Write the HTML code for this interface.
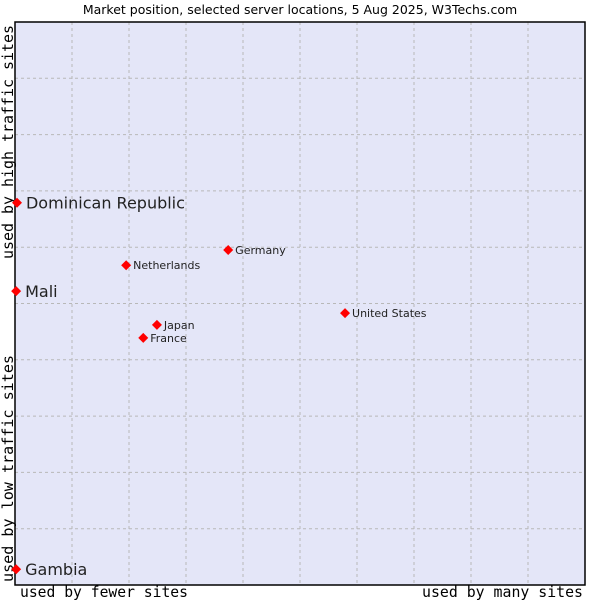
<!DOCTYPE html>
<html><head><meta charset="utf-8"><style>
body{margin:0;background:#fff;width:600px;height:600px;overflow:hidden}
text{font-family:"DejaVu Sans","Liberation Sans",sans-serif}
.m{font-family:"DejaVu Sans Mono","Liberation Mono",monospace}
</style></head><body>
<svg id="c" width="600" height="600">
<text x="300" y="14" text-anchor="middle" font-size="12.5" fill="#000">Market position, selected server locations, 5 Aug 2025, W3Techs.com</text>
<rect x="15" y="22" width="570" height="563" fill="#e4e6f8"/>
<g id="grid"></g>
<rect x="15" y="22" width="570" height="563" fill="none" stroke="#000" stroke-width="1.5"/>
<text class="m" x="20" y="597" font-size="15" textLength="168" lengthAdjust="spacingAndGlyphs">used by fewer sites</text>
<text class="m" x="422" y="597" font-size="15" textLength="161" lengthAdjust="spacingAndGlyphs">used by many sites</text>
<text class="m" transform="translate(13,259) rotate(-90)" font-size="15" textLength="234" lengthAdjust="spacingAndGlyphs">used by high traffic sites</text>
<text class="m" transform="translate(13,582) rotate(-90)" font-size="15" textLength="227" lengthAdjust="spacingAndGlyphs">used by low traffic sites</text>
<g id="pts"></g>
</svg>
<script>
const names=["Dominican Republic","Mali","Gambia","Germany","Netherlands","United States","Japan","France"];
const xs=[0.35,0.2,0.2,37.4,19.5,57.9,24.9,22.5];
const ys=[67.9,52.2,2.8,59.5,56.8,48.3,46.2,43.9];
const big=[true,true,true,false,false,false,false,false];
const L=15,R=585,T=22,B=585;
const sx=v=>L+v/100*(R-L), sy=v=>B-v/100*(B-T);
const ns="http://www.w3.org/2000/svg";
const g=document.getElementById('grid');
for(let i=1;i<10;i++){
 let l=document.createElementNS(ns,'line');
 
 
 l.setAttribute('x1',sx(i*10));l.setAttribute('x2',sx(i*10));l.setAttribute('y1',T);l.setAttribute('y2',B);
 l.setAttribute('stroke','#b8b8b8');l.setAttribute('stroke-dasharray','3,3');g.appendChild(l);
 let h=document.createElementNS(ns,'line');
 
 
 h.setAttribute('y1',sy(i*10));h.setAttribute('y2',sy(i*10));h.setAttribute('x1',L);h.setAttribute('x2',R);
 h.setAttribute('stroke','#b8b8b8');h.setAttribute('stroke-dasharray','3,3');g.appendChild(h);
}
const p=document.getElementById('pts');
names.forEach((n,i)=>{
 const x=sx(xs[i]),y=sy(ys[i]),r=big[i]?5:5;
 let d=document.createElementNS(ns,'polygon');
 
 
 d.setAttribute('points',`${x},${y-r} ${x+r},${y} ${x},${y+r} ${x-r},${y}`);
 d.setAttribute('fill','#f00');p.appendChild(d);
 let t=document.createElementNS(ns,'text');
 
 
 t.setAttribute('x',x+(big[i]?9:7));t.setAttribute('y',y+(big[i]?6:4));
 t.setAttribute('font-size',big[i]?16:11);t.setAttribute('fill','#222');
 t.textContent=n;p.appendChild(t);
});
</script>
</body></html>
